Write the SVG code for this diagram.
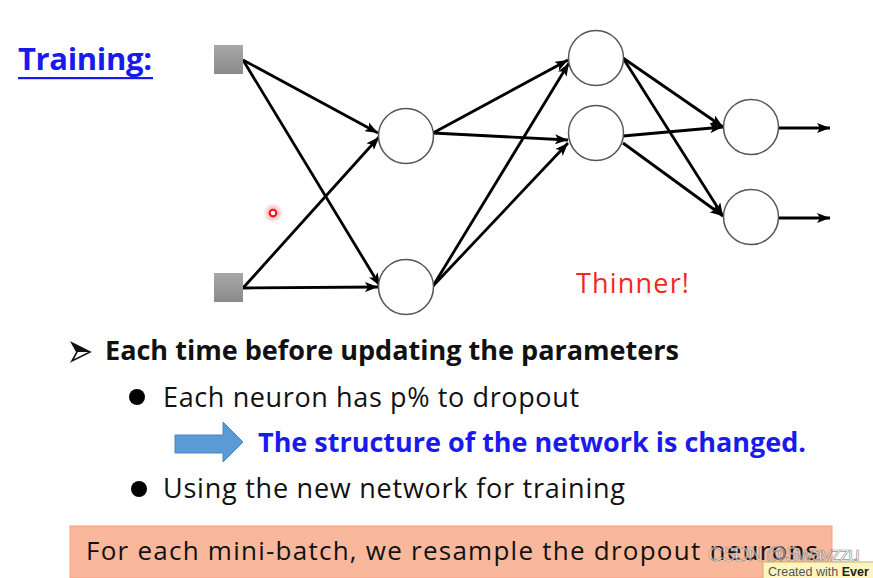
<svg xmlns="http://www.w3.org/2000/svg" width="873" height="578" viewBox="0 0 873 578">
<style>
.neuron{fill:#fff;stroke:#555;stroke-width:1.5}
.inp{fill:url(#sqg)}
.edge{stroke:#000;stroke-width:2.8;fill:none;marker-end:url(#ah)}
.t{font-family:"Open Sans","Liberation Sans",sans-serif;fill:#111}
.b{font-weight:bold}
</style>
<defs>
<linearGradient id="sqg" x1="0" y1="0" x2="0" y2="1">
<stop offset="0" stop-color="#a8a8a8"/><stop offset="1" stop-color="#8a8a8a"/>
</linearGradient>
<radialGradient id="glow">
<stop offset="0" stop-color="#ff3030" stop-opacity="0.6"/><stop offset="1" stop-color="#ff3030" stop-opacity="0"/>
</radialGradient>
<marker id="ah" markerUnits="userSpaceOnUse" markerWidth="13" markerHeight="10" refX="13" refY="5" orient="auto">
<path d="M0,0 L13,5 L0,10 L3,5 z" fill="#000"/>
</marker>
</defs>
<rect width="873" height="578" fill="#fff"/>

<g id="title">
<text class="t b" x="18" y="70" font-size="31" style="fill:#1a1aee" textLength="134">Training:</text>
<rect x="18" y="77" width="135" height="2.2" fill="#1a1aee"/>
</g>

<g id="connectors">
<line class="edge" x1="243" y1="60" x2="378" y2="133"/>
<line class="edge" x1="243" y1="60" x2="380" y2="286"/>
<line class="edge" x1="243" y1="288" x2="379" y2="137"/>
<line class="edge" x1="243" y1="288" x2="378" y2="287"/>
<line class="edge" x1="433" y1="133" x2="568" y2="60"/>
<line class="edge" x1="433" y1="133" x2="568" y2="140"/>
<line class="edge" x1="433" y1="286" x2="569" y2="63"/>
<line class="edge" x1="433" y1="286" x2="568" y2="143"/>
<line class="edge" x1="623" y1="58" x2="723" y2="127"/>
<line class="edge" x1="623" y1="58" x2="723" y2="216"/>
<line class="edge" x1="623" y1="136" x2="723" y2="127"/>
<line class="edge" x1="623" y1="143" x2="723" y2="216"/>
<line class="edge" x1="779" y1="128" x2="830" y2="128"/>
<line class="edge" x1="779" y1="218" x2="830" y2="218"/>
</g>

<g id="in1"><rect class="inp" x="214" y="45" width="29" height="29"/></g>
<g id="in2"><rect class="inp" x="214" y="273" width="29" height="29"/></g>
<g id="h1a"><circle class="neuron" cx="406" cy="136" r="27.5"/></g>
<g id="h1b"><circle class="neuron" cx="406" cy="287" r="27.5"/></g>
<g id="h2a"><circle class="neuron" cx="596" cy="58" r="27.5"/></g>
<g id="h2b"><circle class="neuron" cx="596" cy="133" r="27.5"/></g>
<g id="o1"><circle class="neuron" cx="751" cy="127" r="27.5"/></g>
<g id="o2"><circle class="neuron" cx="751" cy="217" r="27.5"/></g>

<g id="pointer">
<circle cx="273" cy="213" r="10" fill="url(#glow)"/>
<circle cx="273" cy="213" r="3.3" fill="#fff" stroke="#ee1010" stroke-width="2"/>
</g>

<text class="t" x="576" y="293" font-size="27" style="fill:#f02a1a" textLength="113">Thinner!</text>

<g id="bullets">
<path d="M72,343 L90,352 L72,361 L77,352 z" fill="none" stroke="#111" stroke-width="1.6"/>
<path d="M72,343 L90,352 L77,352 z" fill="#111"/>
<text class="t b" x="105" y="360" font-size="26" textLength="574" lengthAdjust="spacingAndGlyphs">Each time before updating the parameters</text>
<circle cx="137" cy="397" r="8" fill="#000"/>
<text class="t" x="163" y="407" font-size="27" textLength="416">Each neuron has p% to dropout</text>
<path d="M175,435 L223,435 L223,422 L243,442 L223,462 L223,453 L175,453 z" fill="#5b9bd5" stroke="#4a86bd" stroke-width="1"/>
<text class="t b" x="258" y="452" font-size="26" style="fill:#1a1aee" textLength="548" lengthAdjust="spacingAndGlyphs">The structure of the network is changed.</text>
<circle cx="139" cy="489" r="8" fill="#000"/>
<text class="t" x="163" y="498" font-size="27" textLength="462">Using the new network for training</text>
</g>

<g id="note">
<rect x="70" y="526" width="762" height="52" fill="#f9b89b" stroke="#f3a07e" stroke-width="1"/>
<text class="t" x="86" y="560" font-size="26" textLength="732">For each mini-batch, we resample the dropout neurons</text>
</g>

<g id="watermark">
<text x="708" y="561" font-family="Liberation Sans,sans-serif" font-size="21" fill="#ffffff" fill-opacity="0.6" stroke="#777" stroke-width="0.7" stroke-opacity="0.8" textLength="152">CSDN @Swayzzu</text>
<rect x="763" y="562" width="112" height="18" fill="#fdf5c0" stroke="#c9b460" stroke-width="1"/>
<text x="768" y="576" font-family="Liberation Sans,sans-serif" font-size="12.5" fill="#555">Created with <tspan font-weight="bold" fill="#222">Ever</tspan></text>
</g>
</svg>
